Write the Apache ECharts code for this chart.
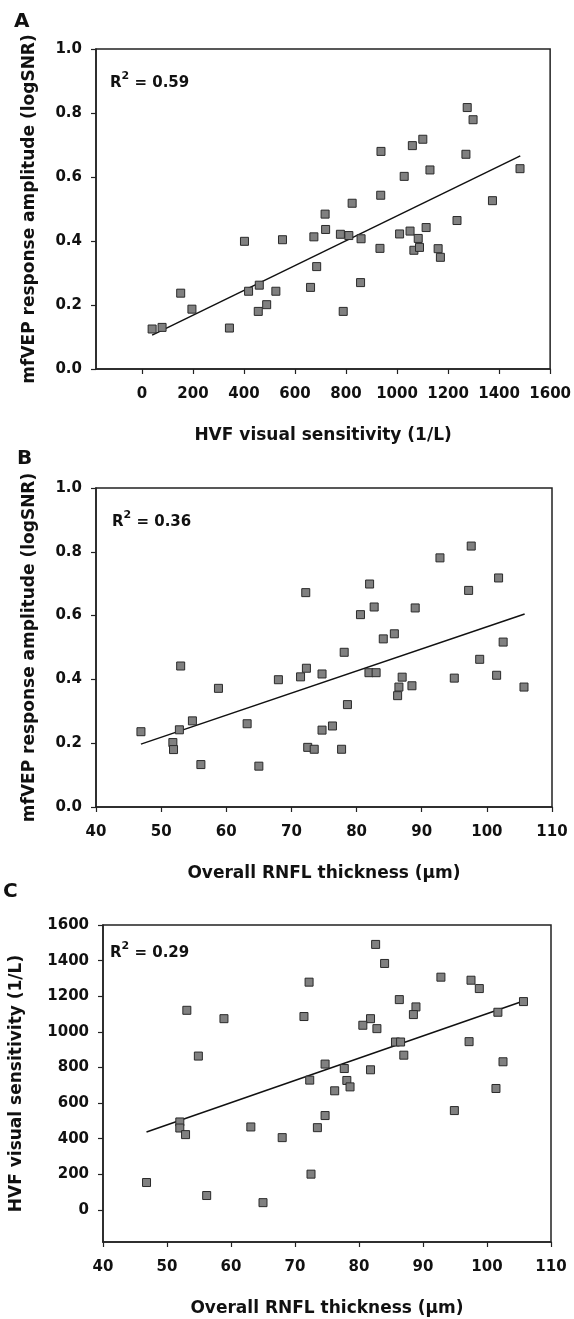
<!DOCTYPE html>
<html>
<head>
<meta charset="utf-8">
<script src="https://cdn.jsdelivr.net/npm/echarts@6/dist/echarts.min.js"></script>
<style>
  html, body { margin: 0; padding: 0; background: #fff; }
  #chart { width: 574px; height: 1319px; }
</style>
</head>
<body>
<div id="chart"></div>
<script>
// Panel A: HVF visual sensitivity (1/L) vs mfVEP amplitude (logSNR)
const pointsA = [
  [40, 0.125], [79, 0.13], [152, 0.237], [196, 0.187], [343, 0.128], [402, 0.399],
  [418, 0.243], [460, 0.262], [456, 0.18], [489, 0.201], [525, 0.243], [551, 0.404],
  [661, 0.255], [685, 0.32], [674, 0.413], [720, 0.436], [718, 0.484], [789, 0.18],
  [778, 0.421], [811, 0.417], [824, 0.518], [859, 0.407], [857, 0.27], [933, 0.377],
  [936, 0.543], [1010, 0.422], [1051, 0.431], [1083, 0.408], [1066, 0.371], [1088, 0.38],
  [1114, 0.442], [1161, 0.376], [1170, 0.349], [1235, 0.464], [1374, 0.526], [1275, 0.817],
  [1298, 0.779], [1101, 0.718], [1060, 0.698], [937, 0.68], [1270, 0.671], [1129, 0.622],
  [1028, 0.602], [1482, 0.626]
];
const fitA = [[40, 0.106], [1483, 0.666]];

// Panel B: RNFL thickness (µm) vs mfVEP amplitude (logSNR)
const pointsB = [
  [46.9, 0.236], [51.8, 0.202], [51.9, 0.18], [52.8, 0.242], [53.0, 0.442], [54.8, 0.27],
  [56.1, 0.133], [58.8, 0.372], [63.2, 0.261], [65.0, 0.128], [68.0, 0.399], [71.4, 0.408],
  [72.3, 0.435], [74.7, 0.417], [78.1, 0.485], [78.6, 0.321], [74.7, 0.241], [76.3, 0.254],
  [72.5, 0.187], [73.5, 0.181], [77.7, 0.181], [80.6, 0.603], [82.7, 0.627], [89.0, 0.624],
  [84.1, 0.527], [85.8, 0.543], [81.9, 0.421], [83.0, 0.421], [87.0, 0.407], [86.5, 0.376],
  [86.3, 0.349], [88.5, 0.38], [95.0, 0.404], [98.9, 0.463], [101.5, 0.413], [102.5, 0.517],
  [105.7, 0.376], [97.6, 0.818], [92.8, 0.781], [101.8, 0.718], [82.0, 0.699], [97.2, 0.679],
  [72.2, 0.672]
];
const fitB = [[46.9, 0.197], [105.8, 0.605]];

// Panel C: RNFL thickness (µm) vs HVF visual sensitivity (1/L)
const pointsC = [
  [53.1, 1121], [58.9, 1074], [54.9, 864], [52.0, 494], [52.0, 460], [52.9, 423],
  [46.8, 154], [56.2, 81], [63.1, 466], [68.0, 406], [65.0, 41], [72.2, 1279],
  [71.4, 1086], [82.6, 1491], [84.0, 1384], [92.8, 1307], [97.5, 1290], [98.8, 1243],
  [86.3, 1181], [88.9, 1140], [88.5, 1097], [81.8, 1074], [80.6, 1037], [82.8, 1018],
  [105.7, 1170], [101.7, 1110], [85.7, 943], [86.5, 943], [97.2, 945], [87.0, 869],
  [74.7, 819], [77.7, 794], [81.8, 787], [72.3, 729], [78.1, 727], [78.6, 691],
  [76.2, 669], [74.7, 530], [73.5, 462], [72.5, 201], [94.9, 558], [101.4, 682],
  [102.5, 832]
];
const fitC = [[46.8, 438], [105.7, 1173]];

const hvfTicks = [0, 200, 400, 600, 800, 1000, 1200, 1400, 1600];
const r2Values = ['0.59', '0.36', '0.29'];
const panelLetters = ['A', 'B', 'C'];

const FONT = 'DejaVu Sans';
const INK = '#111';

let labelStyle = (margin, formatter) => ({
  color: INK, fontFamily: FONT, fontWeight: 'bold', fontSize: 15, margin: margin, formatter: formatter
});

let baseAxis = (extra) => Object.assign({
  axisLine: { show: true, onZero: false, lineStyle: { color: '#222', width: 1.5 } },
  axisTick: { show: true, inside: false, length: 5, lineStyle: { color: '#222', width: 1.2 } },
  splitLine: { show: false },
  nameLocation: 'middle',
  nameTextStyle: { color: INK, fontFamily: FONT, fontWeight: 'bold', fontSize: 17 }
}, extra);

let hvfAxis = (gridIndex, name, nameGap, margin) => baseAxis({
  gridIndex: gridIndex, type: 'value', min: -180, max: 1600, name: name, nameGap: nameGap,
  axisLabel: Object.assign(labelStyle(margin, (v) => String(v)), { customValues: hvfTicks }),
  axisTick: { show: true, inside: false, length: 5, lineStyle: { color: '#222', width: 1.2 }, customValues: hvfTicks }
});

let rnflAxis = (gridIndex) => baseAxis({
  gridIndex: gridIndex, type: 'value', min: 40, max: 110, interval: 10,
  name: 'Overall RNFL thickness (µm)', nameGap: 58,
  axisLabel: labelStyle(18, (v) => String(v))
});

let ampAxis = (gridIndex) => baseAxis({
  gridIndex: gridIndex, type: 'value', min: 0, max: 1, interval: 0.2,
  name: 'mfVEP response amplitude (logSNR)', nameGap: 58,
  axisLabel: labelStyle(14, (v) => v.toFixed(1))
});

let scatterSeries = (idx, data) => ({
  type: 'scatter', xAxisIndex: idx, yAxisIndex: idx, data: data,
  symbol: 'rect', symbolSize: 8, z: 3,
  itemStyle: { color: '#808080', borderColor: '#2a2a2a', borderWidth: 1, opacity: 1 }
});

let fitSeries = (idx, data) => ({
  type: 'line', xAxisIndex: idx, yAxisIndex: idx, data: data,
  showSymbol: false, symbol: 'none', z: 2, silent: true,
  lineStyle: { color: '#111', width: 1.5 }
});

let r2Text = (x, y, value) => ({
  type: 'text', left: x, top: y,
  style: {
    text: '{r|R}{s|2}{r| = ' + value + '}',
    rich: {
      r: { fontFamily: FONT, fontWeight: 'bold', fontSize: 15, fill: INK, verticalAlign: 'bottom', lineHeight: 20 },
      s: { fontFamily: FONT, fontWeight: 'bold', fontSize: 11, fill: INK, verticalAlign: 'top', lineHeight: 20 }
    }
  }
});

let letterText = (x, y, letter) => ({
  type: 'text', left: x, top: y,
  style: { text: letter, fontFamily: FONT, fontWeight: 'bold', fontSize: 20, fill: INK }
});

let gridBox = (left, top, width, height) => ({
  left: left, top: top, width: width, height: height,
  show: true, borderColor: '#222', borderWidth: 1.5, backgroundColor: 'transparent'
});

let chart = echarts.init(document.getElementById('chart'), null, { renderer: 'canvas' });

chart.setOption({
  backgroundColor: '#fff',
  animation: false,
  grid: [
    gridBox(96, 49, 456, 320),
    gridBox(96, 488, 456, 319),
    gridBox(98, 925, 453, 317)
  ],
  xAxis: [
    hvfAxis(0, 'HVF visual sensitivity (1/L)', 58, 18),
    rnflAxis(1),
    rnflAxis(2)
  ],
  yAxis: [
    ampAxis(0),
    ampAxis(1),
    hvfAxis(2, 'HVF visual sensitivity (1/L)', 78, 14)
  ],
  series: [
    fitSeries(0, fitA), scatterSeries(0, pointsA),
    fitSeries(1, fitB), scatterSeries(1, pointsB),
    fitSeries(2, fitC), scatterSeries(2, pointsC)
  ],
  graphic: [
    letterText(14, 12, panelLetters[0]),
    letterText(17, 449, panelLetters[1]),
    letterText(3, 882, panelLetters[2]),
    r2Text(110, 71, r2Values[0]),
    r2Text(112, 510, r2Values[1]),
    r2Text(110, 941, r2Values[2])
  ]
});
</script>
</body>
</html>
